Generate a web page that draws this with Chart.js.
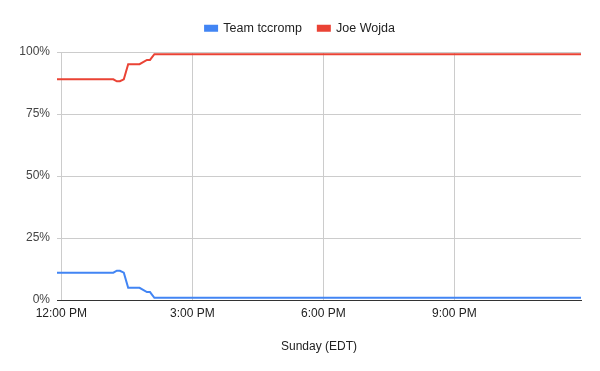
<!DOCTYPE html>
<html>
<head>
<meta charset="utf-8">
<script src="https://cdn.jsdelivr.net/npm/chart.js@4/dist/chart.umd.min.js"></script>
<style>
  html, body { margin: 0; padding: 0; background: #fff; }
  #wrap { width: 600px; height: 371px; }
</style>
</head>
<body>
<div id="wrap"><canvas id="chart" width="600" height="371"></canvas></div>
<script>
// hours after 12:00 PM (Sunday, EDT)
const hours = [-0.1, 1.19, 1.27, 1.34, 1.43, 1.53, 1.79, 1.96, 2.03, 2.13, 11.9];
const tccromp = [11, 11, 11.8, 11.8, 11, 4.9, 4.9, 3.2, 3.2, 0.9, 0.9];
const wojda = [89, 89, 88.2, 88.2, 89, 95.1, 95.1, 96.8, 96.8, 99.1, 99.1];
const tickHours = [0, 3, 6, 9];
const tickLabels = ['12:00 PM', '3:00 PM', '6:00 PM', '9:00 PM'];
const yTicks = [0, 25, 50, 75, 100];

const font = { family: 'Liberation Sans, Arial, sans-serif', size: 12 };
const toPoints = (vals) => hours.map((h, i) => ({ x: h, y: vals[i] }));

// fix the legend band height so the plot starts at y=52
const legendHeight = {
    id: 'legendHeight',
    beforeInit(chart) {
        const fit = chart.legend.fit;
        chart.legend.fit = function () {
            fit.bind(chart.legend)();
            this.height = 46;
        };
    }
};

new Chart(document.getElementById('chart'), {
    type: 'line',
    data: {
        datasets: [
            {
                label: 'Team tccromp',
                data: toPoints(tccromp),
                borderColor: '#4285F4',
                backgroundColor: '#4285F4',
                borderWidth: 2,
                pointRadius: 0,
                tension: 0
            },
            {
                label: 'Joe Wojda',
                data: toPoints(wojda),
                borderColor: '#EA4335',
                backgroundColor: '#EA4335',
                borderWidth: 2,
                pointRadius: 0,
                tension: 0
            }
        ]
    },
    options: {
        responsive: false,
        animation: false,
        layout: { padding: { left: 0, right: 0, top: 6, bottom: 0 } },
        plugins: {
            legend: {
                position: 'top',
                labels: {
                    font: { family: font.family, size: 12.5 },
                    color: '#222',
                    boxWidth: 12,
                    boxHeight: 5,
                    padding: 16
                }
            },
            tooltip: { enabled: false }
        },
        scales: {
            x: {
                type: 'linear',
                min: hours[0],
                max: hours[hours.length - 1],
                afterBuildTicks: (scale) => {
                    scale.ticks = tickHours.map(v => ({ value: v }));
                },
                afterFit: (scale) => { scale.height = 71; },
                ticks: {
                    font: font,
                    color: '#222',
                    padding: 6,
                    maxRotation: 0,
                    callback: (v) => tickLabels[tickHours.indexOf(v)]
                },
                grid: { color: '#ccc', drawTicks: false },
                border: { display: true, color: '#333' },
                title: {
                    display: true,
                    text: 'Sunday (EDT)',
                    font: font,
                    color: '#222',
                    padding: { top: 4, bottom: 17 }
                }
            },
            y: {
                min: 0,
                max: 100,
                afterBuildTicks: (scale) => {
                    scale.ticks = yTicks.map(v => ({ value: v }));
                },
                afterFit: (scale) => { scale.width = 57; },
                ticks: {
                    font: font,
                    color: '#444',
                    padding: 7,
                    callback: (v) => v + '%'
                },
                grid: {
                    drawTicks: false,
                    color: (ctx) => (ctx.tick && ctx.tick.value === 0 ? '#333' : '#ccc')
                },
                border: { display: false }
            },
            // empty right-hand margin so the legend stays centred on the page
            yRight: {
                position: 'right',
                min: 0,
                max: 100,
                afterFit: (scale) => { scale.width = 19; },
                ticks: { display: false },
                grid: { display: false },
                border: { display: false }
            }
        }
    },
    plugins: [legendHeight]
});
</script>
</body>
</html>
